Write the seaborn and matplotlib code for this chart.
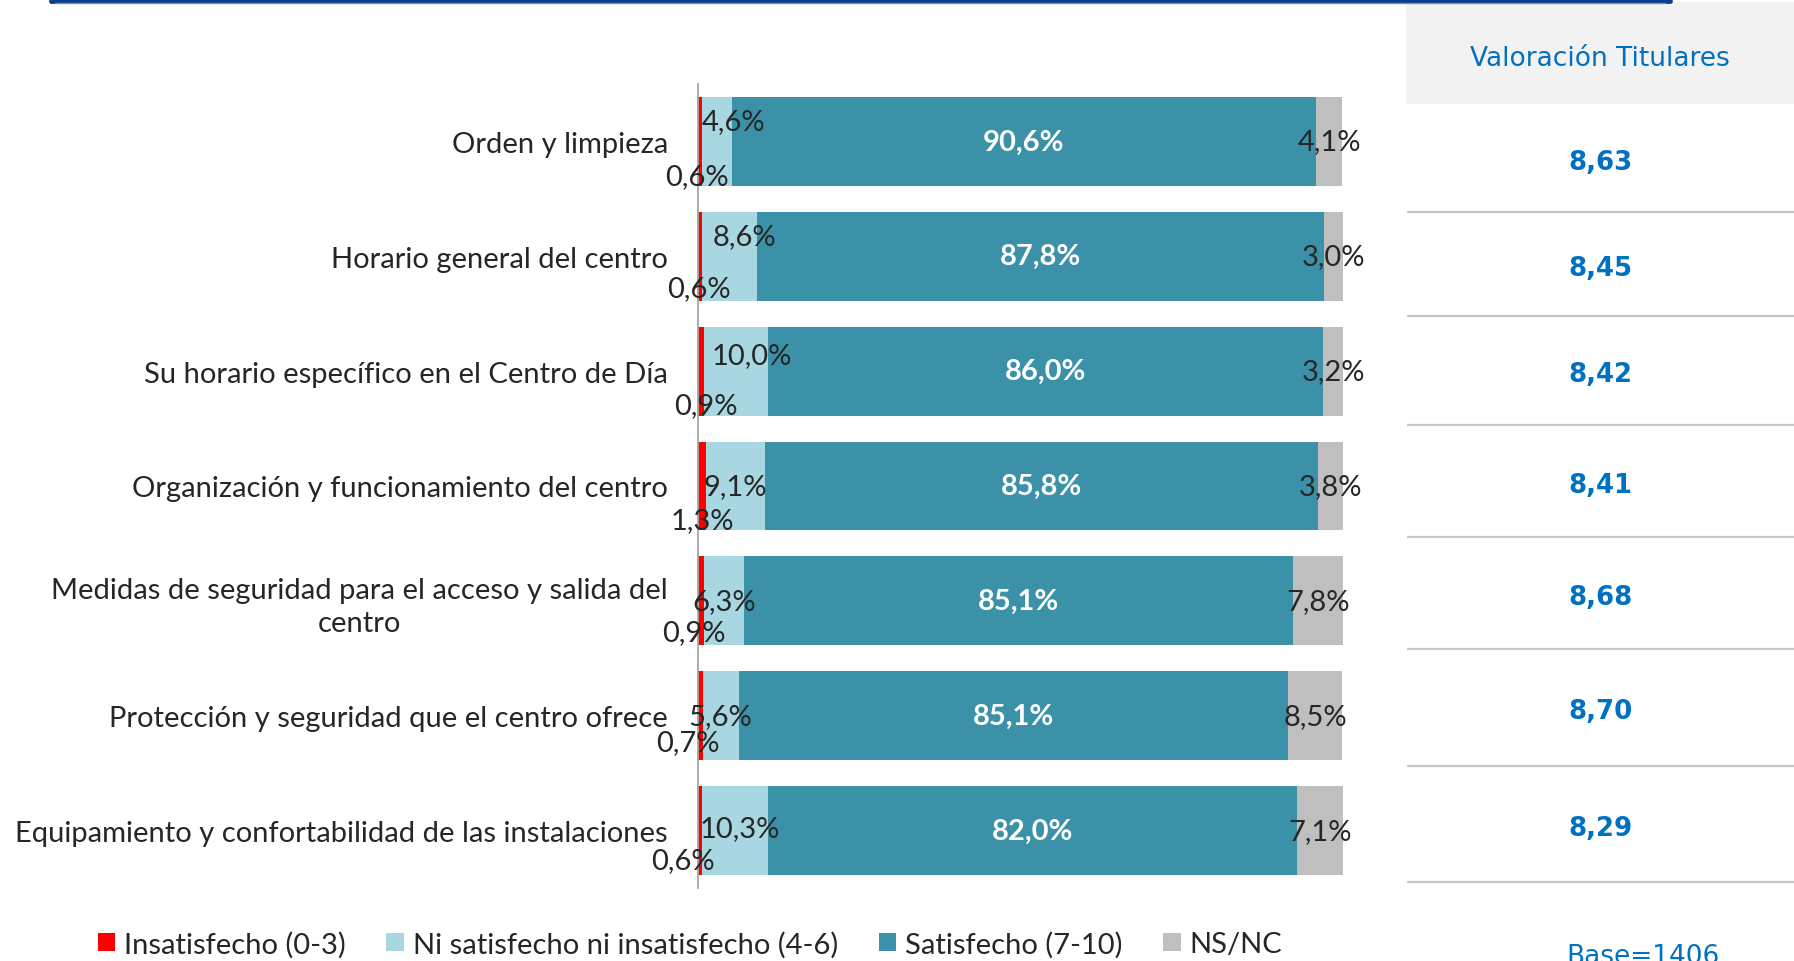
import numpy as np
import pandas as pd
import matplotlib
matplotlib.use("Agg")
import matplotlib.pyplot as plt
from matplotlib.patches import Patch, Rectangle
import seaborn as sns

# --- data ---
categories = [
    "Orden y limpieza",
    "Horario general del centro",
    "Su horario específico en el Centro de Día",
    "Organización y funcionamiento del centro",
    "Medidas de seguridad para el acceso y salida del\ncentro",
    "Protección y seguridad que el centro ofrece",
    "Equipamiento y confortabilidad de las instalaciones",
]
insatisfecho = [0.6, 0.6, 0.9, 1.3, 0.9, 0.7, 0.6]
ni_ni = [4.6, 8.6, 10.0, 9.1, 6.3, 5.6, 10.3]
satisfecho = [90.6, 87.8, 86.0, 85.8, 85.1, 85.1, 82.0]
nsnc = [4.1, 3.0, 3.2, 3.8, 7.8, 8.5, 7.1]
valoracion = [8.63, 8.45, 8.42, 8.41, 8.68, 8.70, 8.29]

series_names = ["Insatisfecho (0-3)", "Ni satisfecho ni insatisfecho (4-6)",
                "Satisfecho (7-10)", "NS/NC"]
colors = ["#FF0000", "#A8D7E2", "#3A91A8", "#BFBFBF"]
BLUE = "#0070C0"
FS = 21

# label nudges (pixels) copied from the way the labels sit in the original
red_dx = [-3, -1, 5, 0, -7, -12, -17]
red_dy = [-35, -32, -34, -34, -31, -26, -29]
lb_dx = [17, 15, 16, 0, 0, 0, 5]
lb_dy = [20, 20, 16, 0, 0, 0, 3]

# row boundaries of the right-hand table (pixels from top)
row_edges = [105, 213, 317, 426, 538, 650, 767, 883]

W, H = 1794, 962
sns.set_theme(style="white")
plt.rcParams["font.family"] = ["Lato", "DejaVu Sans"]

fig = plt.figure(figsize=(W / 100, H / 100), dpi=100)

# background axes in pixel coordinates for the table and decoration
bg = fig.add_axes([0, 0, 1, 1], zorder=0)
bg.set_xlim(0, W)
bg.set_ylim(H, 0)
bg.axis("off")
bg.plot([51, 1670], [1.5, 1.5], color="#0B3E8E", lw=3.5, solid_capstyle="round")
bg.plot([55, 1665], [4.0, 4.0], color="#6F8FC4", lw=1.0)
bg.add_patch(Rectangle((1406, 3), W - 1406, row_edges[0] - 3, color="#F2F2F2", lw=0))
bg.text(1600, 59, "Valoración Titulares", color=BLUE, fontsize=19,
        family="DejaVu Sans", ha="center", va="center")
for y in row_edges[1:]:
    bg.plot([1408, W], [y, y], color="#C8C8C8", lw=1.6)
for i, v in enumerate(valoracion):
    yc = (row_edges[i] + row_edges[i + 1]) / 2 + 4
    bg.text(1600, yc, f"{v:.2f}".replace(".", ","), color=BLUE, fontsize=18.7,
            family="DejaVu Sans", fontweight="bold", ha="center", va="center")
bg.text(1643, 964, "Base=1406", color=BLUE, fontsize=19, family="DejaVu Sans",
        ha="center", va="baseline", clip_on=False)

# main stacked bar chart
ax = fig.add_axes([698 / W, 1 - 889 / H, 645 / W, 804 / H], zorder=1)
ax.patch.set_alpha(0)

df = pd.DataFrame({"cat": categories, "a": insatisfecho, "b": ni_ni,
                   "c": satisfecho, "d": nsnc})
cum = df[["a", "b", "c", "d"]].cumsum(axis=1)
for col, colr in zip(["d", "c", "b", "a"], colors[::-1]):
    sns.barplot(x=cum[col], y=df["cat"], orient="h", color=colr, width=0.774,
                saturation=1, errorbar=None, linewidth=0, ax=ax)

ax.set_xlim(0, 100)
ax.set_ylim(6.5, -0.5)
ax.set_xlabel("")
ax.set_ylabel("")
ax.set_xticks([])
ax.set_yticks(range(len(categories)))
ax.set_yticklabels(categories, fontsize=FS, linespacing=1.3)
for lbl in ax.get_yticklabels():
    lbl.set_multialignment("center")
ax.tick_params(axis="y", length=0, pad=21.6)
for s in ["top", "right", "bottom"]:
    ax.spines[s].set_visible(False)
ax.spines["left"].set_color("#A6A6A6")
ax.spines["left"].set_linewidth(1.3)

fmt = lambda v: f"{v:.1f}%".replace(".", ",")
for i in range(len(categories)):
    a, b, c, d = insatisfecho[i], ni_ni[i], satisfecho[i], nsnc[i]
    ax.annotate(fmt(a), xy=(a / 2, i), xytext=(red_dx[i], red_dy[i]),
                textcoords="offset pixels", ha="center", va="center", fontsize=FS)
    ax.annotate(fmt(b), xy=(a + b / 2, i), xytext=(lb_dx[i], lb_dy[i]),
                textcoords="offset pixels", ha="center", va="center", fontsize=FS)
    ax.text(a + b + c / 2, i, fmt(c), ha="center", va="center", fontsize=FS,
            color="white", fontweight="bold")
    ax.text(a + b + c + d / 2, i, fmt(d), ha="center", va="center", fontsize=FS)

handles = [Patch(facecolor=c, edgecolor="none") for c in colors]
fig.legend(handles, series_names, loc="center", bbox_to_anchor=(690 / W, 1 - 945 / H),
           ncol=4, frameon=False, fontsize=FS, handlelength=0.6, handleheight=0.6,
           handletextpad=0.3, columnspacing=1.4, borderaxespad=0)

fig.savefig("out.png", dpi=100)
